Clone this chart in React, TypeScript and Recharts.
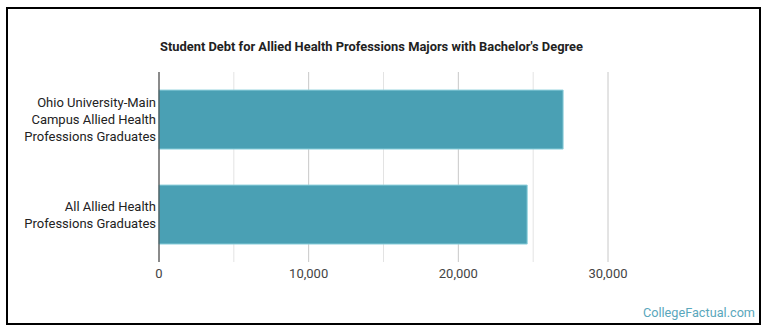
import React from "react";
import { BarChart, Bar, XAxis, YAxis, CartesianGrid } from "recharts";

const titleText = "Student Debt for Allied Health Professions Majors with Bachelor's Degree";
const categories = [
  "Ohio University-Main Campus Allied Health Professions Graduates",
  "All Allied Health Professions Graduates",
];
const categoryLines = [
  ["Ohio University-Main", "Campus Allied Health", "Professions Graduates"],
  ["All Allied Health", "Professions Graduates"],
];
const debtValues = [27000, 24600];
const majorTicks = [0, 10000, 20000, 30000];
const minorTicks = [5000, 15000, 25000];
const watermark = "CollegeFactual.com";

const data = categories.map((name, i) => ({ name, debt: debtValues[i] }));

const FONT = "Roboto, 'Noto Sans', sans-serif";

const YTick = (props: any) => {
  const { x, y, payload } = props;
  const idx = categories.indexOf(payload.value);
  const lines = idx >= 0 ? categoryLines[idx] : [String(payload.value)];
  const lh = 17;
  const start = y - ((lines.length - 1) * lh) / 2;
  return (
    <text x={x} y={start} textAnchor="end" fill="#222" fontSize={13} fontFamily={FONT}>
      {lines.map((l, i) => (
        <tspan key={i} x={x} y={start + i * lh} dy="0.355em">
          {l}
        </tspan>
      ))}
    </text>
  );
};

const fmt = (v: number) => v.toLocaleString("en-US");

export default function App() {
  return (
    <div style={{ position: "absolute", left: 0, top: 0, width: 770, height: 335, background: "#fff" }}>
      <div
        style={{
          position: "absolute",
          left: 6,
          top: 7,
          width: 755,
          height: 318,
          border: "2px solid #000",
          boxSizing: "border-box",
        }}
      />
      <svg style={{ position: "absolute", left: 0, top: 0 }} width={770} height={335}>
        <text
          x={160}
          y={46}
          dy="0.355em"
          fontSize={13}
          fontWeight="bold"
          fontFamily={FONT}
          fill="#222"
          textLength={423}
          lengthAdjust="spacingAndGlyphs"
        >
          {titleText}
        </text>
        <text x={755} y={312} dy="0.355em" textAnchor="end" fontSize={12.7} fontFamily={FONT} fill="#5aa7bc">
          {watermark}
        </text>
      </svg>
      <div style={{ position: "absolute", left: 0, top: 0 }}>
        <BarChart
          width={770}
          height={335}
          data={data}
          layout="vertical"
          margin={{ top: 72, right: 162, bottom: 43, left: 9 }}
          barCategoryGap="19%"
        >
          <CartesianGrid horizontal={false} stroke="#e3e3e3" verticalValues={minorTicks} />
          <CartesianGrid horizontal={false} stroke="#c8c8c8" />
          <XAxis
            type="number"
            domain={[0, 30000]}
            ticks={majorTicks}
            tickFormatter={fmt}
            axisLine={false}
            tickLine={false}
            tickSize={0}
            tickMargin={7}
            height={30}
            tick={{ fill: "#444", fontSize: 13, fontFamily: FONT }}
          />
          <YAxis
            type="category"
            dataKey="name"
            width={150}
            axisLine={{ stroke: "#333", strokeWidth: 1 }}
            tickLine={false}
            tickSize={0}
            tickMargin={3}
            tick={<YTick />}
          />
          <Bar dataKey="debt" fill="#4aa0b4" stroke="#8fd0dc" strokeWidth={1} isAnimationActive={false} />
        </BarChart>
      </div>
    </div>
  );
}
